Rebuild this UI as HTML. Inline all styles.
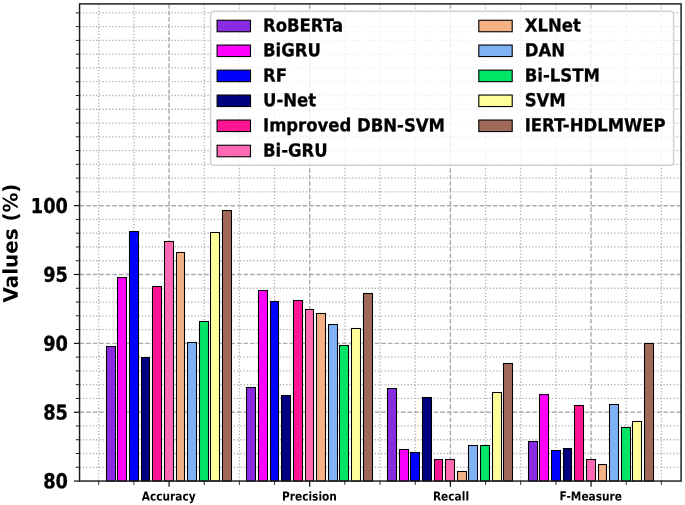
<!DOCTYPE html>
<html><head><meta charset="utf-8"><title>Chart</title>
<style>html,body{margin:0;padding:0;background:#fff}svg{display:block}</style>
</head><body>
<svg width="685" height="505" viewBox="0 0 685 505" font-family="'DejaVu Sans', 'Liberation Sans', sans-serif" font-weight="bold">
<rect width="685" height="505" fill="#fff"/>
<g stroke="#b0b0b0" stroke-width="1.3" stroke-dasharray="1.3 1.98" fill="none">
<path d="M98.72 481.05V3.9"/>
<path d="M133.88 481.05V3.9"/>
<path d="M204.22 481.05V3.9"/>
<path d="M239.38 481.05V3.9"/>
<path d="M274.55 481.05V3.9"/>
<path d="M344.89 481.05V3.9"/>
<path d="M380.06 481.05V3.9"/>
<path d="M415.22 481.05V3.9"/>
<path d="M485.56 481.05V3.9"/>
<path d="M520.72 481.05V3.9"/>
<path d="M555.89 481.05V3.9"/>
<path d="M626.23 481.05V3.9"/>
<path d="M661.39 481.05V3.9"/>
<path d="M79.55 467.28H681.1"/>
<path d="M79.55 453.51H681.1"/>
<path d="M79.55 439.74H681.1"/>
<path d="M79.55 425.97H681.1"/>
<path d="M79.55 398.43H681.1"/>
<path d="M79.55 384.66H681.1"/>
<path d="M79.55 370.89H681.1"/>
<path d="M79.55 357.12H681.1"/>
<path d="M79.55 329.58H681.1"/>
<path d="M79.55 315.81H681.1"/>
<path d="M79.55 302.04H681.1"/>
<path d="M79.55 288.27H681.1"/>
<path d="M79.55 260.73H681.1"/>
<path d="M79.55 246.96H681.1"/>
<path d="M79.55 233.19H681.1"/>
<path d="M79.55 219.42H681.1"/>
<path d="M79.55 191.88H681.1"/>
<path d="M79.55 178.11H681.1"/>
<path d="M79.55 164.34H681.1"/>
<path d="M79.55 150.57H681.1"/>
<path d="M79.55 136.80H681.1"/>
<path d="M79.55 123.03H681.1"/>
<path d="M79.55 109.26H681.1"/>
<path d="M79.55 95.49H681.1"/>
<path d="M79.55 81.72H681.1"/>
<path d="M79.55 67.95H681.1"/>
<path d="M79.55 54.18H681.1"/>
<path d="M79.55 40.41H681.1"/>
<path d="M79.55 26.64H681.1"/>
<path d="M79.55 12.87H681.1"/>
</g>
<g stroke="#adadad" stroke-width="1.45" stroke-dasharray="4.6 1.96" fill="none">
<path d="M169.05 481.05V3.9"/>
<path d="M309.72 481.05V3.9"/>
<path d="M450.39 481.05V3.9"/>
<path d="M591.06 481.05V3.9"/>
<path d="M79.55 412.20H681.1"/>
<path d="M79.55 343.35H681.1"/>
<path d="M79.55 274.50H681.1"/>
<path d="M79.55 205.65H681.1"/>
</g>
<g stroke="#000" stroke-width="1.05">
<rect x="106.5" y="346.5" width="9.0" height="134.55" fill="#8a2be2"/>
<rect x="117.5" y="277.5" width="9.0" height="203.55" fill="#ff00ff"/>
<rect x="129.5" y="231.5" width="9.0" height="249.55" fill="#0000ff"/>
<rect x="141.5" y="357.5" width="8.0" height="123.55" fill="#000080"/>
<rect x="152.5" y="286.5" width="9.0" height="194.55" fill="#ff1493"/>
<rect x="164.5" y="241.5" width="9.0" height="239.55" fill="#ff69b4"/>
<rect x="176.5" y="252.5" width="8.0" height="228.55" fill="#f4b183"/>
<rect x="187.5" y="342.5" width="9.0" height="138.55" fill="#7fb2f5"/>
<rect x="199.5" y="321.5" width="9.0" height="159.55" fill="#00e566"/>
<rect x="210.5" y="232.5" width="9.0" height="248.55" fill="#ffff99"/>
<rect x="222.5" y="210.5" width="9.0" height="270.55" fill="#a0695a"/>
<rect x="246.5" y="387.5" width="9.0" height="93.55" fill="#8a2be2"/>
<rect x="258.5" y="290.5" width="9.0" height="190.55" fill="#ff00ff"/>
<rect x="270.5" y="301.5" width="8.0" height="179.55" fill="#0000ff"/>
<rect x="281.5" y="395.5" width="9.0" height="85.55" fill="#000080"/>
<rect x="293.5" y="300.5" width="9.0" height="180.55" fill="#ff1493"/>
<rect x="305.5" y="309.5" width="8.0" height="171.55" fill="#ff69b4"/>
<rect x="316.5" y="313.5" width="9.0" height="167.55" fill="#f4b183"/>
<rect x="328.5" y="324.5" width="9.0" height="156.55" fill="#7fb2f5"/>
<rect x="339.5" y="345.5" width="9.0" height="135.55" fill="#00e566"/>
<rect x="351.5" y="328.5" width="9.0" height="152.55" fill="#ffff99"/>
<rect x="363.5" y="293.5" width="9.0" height="187.55" fill="#a0695a"/>
<rect x="387.5" y="388.5" width="9.0" height="92.55" fill="#8a2be2"/>
<rect x="399.5" y="449.5" width="9.0" height="31.55" fill="#ff00ff"/>
<rect x="410.5" y="452.5" width="9.0" height="28.55" fill="#0000ff"/>
<rect x="422.5" y="397.5" width="9.0" height="83.55" fill="#000080"/>
<rect x="434.5" y="459.5" width="8.0" height="21.55" fill="#ff1493"/>
<rect x="445.5" y="459.5" width="9.0" height="21.55" fill="#ff69b4"/>
<rect x="457.5" y="471.5" width="9.0" height="9.55" fill="#f4b183"/>
<rect x="468.5" y="445.5" width="9.0" height="35.55" fill="#7fb2f5"/>
<rect x="480.5" y="445.5" width="9.0" height="35.55" fill="#00e566"/>
<rect x="492.5" y="392.5" width="9.0" height="88.55" fill="#ffff99"/>
<rect x="503.5" y="363.5" width="9.0" height="117.55" fill="#a0695a"/>
<rect x="528.5" y="441.5" width="9.0" height="39.55" fill="#8a2be2"/>
<rect x="539.5" y="394.5" width="9.0" height="86.55" fill="#ff00ff"/>
<rect x="551.5" y="450.5" width="9.0" height="30.55" fill="#0000ff"/>
<rect x="563.5" y="448.5" width="8.0" height="32.55" fill="#000080"/>
<rect x="574.5" y="405.5" width="9.0" height="75.55" fill="#ff1493"/>
<rect x="586.5" y="459.5" width="9.0" height="21.55" fill="#ff69b4"/>
<rect x="598.5" y="464.5" width="8.0" height="16.55" fill="#f4b183"/>
<rect x="609.5" y="404.5" width="9.0" height="76.55" fill="#7fb2f5"/>
<rect x="621.5" y="427.5" width="9.0" height="53.55" fill="#00e566"/>
<rect x="632.5" y="421.5" width="9.0" height="59.55" fill="#ffff99"/>
<rect x="644.5" y="343.5" width="9.0" height="137.55" fill="#a0695a"/>
</g>
<g stroke="#000" stroke-width="1.15" fill="none">
<path d="M169.05 481.05v5.6"/>
<path d="M309.72 481.05v5.6"/>
<path d="M450.39 481.05v5.6"/>
<path d="M591.06 481.05v5.6"/>
<path d="M79.55 481.05h-5.6"/>
<path d="M79.55 412.20h-5.6"/>
<path d="M79.55 343.35h-5.6"/>
<path d="M79.55 274.50h-5.6"/>
<path d="M79.55 205.65h-5.6"/>
</g>
<g stroke="#000" stroke-width="0.85" fill="none">
<path d="M98.72 481.05v3.8"/>
<path d="M133.88 481.05v3.8"/>
<path d="M204.22 481.05v3.8"/>
<path d="M239.38 481.05v3.8"/>
<path d="M274.55 481.05v3.8"/>
<path d="M344.89 481.05v3.8"/>
<path d="M380.06 481.05v3.8"/>
<path d="M415.22 481.05v3.8"/>
<path d="M485.56 481.05v3.8"/>
<path d="M520.72 481.05v3.8"/>
<path d="M555.89 481.05v3.8"/>
<path d="M626.23 481.05v3.8"/>
<path d="M661.39 481.05v3.8"/>
<path d="M79.55 467.28h-3.8"/>
<path d="M79.55 453.51h-3.8"/>
<path d="M79.55 439.74h-3.8"/>
<path d="M79.55 425.97h-3.8"/>
<path d="M79.55 398.43h-3.8"/>
<path d="M79.55 384.66h-3.8"/>
<path d="M79.55 370.89h-3.8"/>
<path d="M79.55 357.12h-3.8"/>
<path d="M79.55 329.58h-3.8"/>
<path d="M79.55 315.81h-3.8"/>
<path d="M79.55 302.04h-3.8"/>
<path d="M79.55 288.27h-3.8"/>
<path d="M79.55 260.73h-3.8"/>
<path d="M79.55 246.96h-3.8"/>
<path d="M79.55 233.19h-3.8"/>
<path d="M79.55 219.42h-3.8"/>
<path d="M79.55 191.88h-3.8"/>
<path d="M79.55 178.11h-3.8"/>
<path d="M79.55 164.34h-3.8"/>
<path d="M79.55 150.57h-3.8"/>
<path d="M79.55 136.80h-3.8"/>
<path d="M79.55 123.03h-3.8"/>
<path d="M79.55 109.26h-3.8"/>
<path d="M79.55 95.49h-3.8"/>
<path d="M79.55 81.72h-3.8"/>
<path d="M79.55 67.95h-3.8"/>
<path d="M79.55 54.18h-3.8"/>
<path d="M79.55 40.41h-3.8"/>
<path d="M79.55 26.64h-3.8"/>
<path d="M79.55 12.87h-3.8"/>
</g>
<rect x="79.55" y="3.9" width="601.5500000000001" height="477.15000000000003" fill="none" stroke="#1c1c1c" stroke-width="1.45"/>
<g font-size="18.06" text-anchor="end" stroke="#000" stroke-width="0.3">
<text transform="translate(68.0 488.35) rotate(0.05) scale(0.985 1.135)">80</text>
<text transform="translate(68.0 419.50) rotate(0.05) scale(0.985 1.135)">85</text>
<text transform="translate(68.0 350.65) rotate(0.05) scale(0.985 1.135)">90</text>
<text transform="translate(68.0 281.80) rotate(0.05) scale(0.985 1.135)">95</text>
<text transform="translate(68.0 212.95) rotate(0.05) scale(0.985 1.135)">100</text>
</g>
<g font-size="11.11" text-anchor="middle">
<text transform="translate(168.75 500.4) rotate(0.05) scale(0.955 1.1)">Accuracy</text>
<text transform="translate(309.42 500.4) rotate(0.05) scale(0.955 1.1)">Precision</text>
<text transform="translate(450.99 500.4) rotate(0.05) scale(0.955 1.1)">Recall</text>
<text transform="translate(590.76 500.4) rotate(0.05) scale(0.955 1.1)">F-Measure</text>
</g>
<text font-size="19.44" text-anchor="middle" transform="translate(17.6 243.0) rotate(-90.04) scale(1.022 1.03)">Values (%)</text>
<rect x="210.6" y="11.3" width="463.0" height="154.0" rx="3.3" fill="#fff" fill-opacity="0.8" stroke="#d2d2d2" stroke-width="1.5"/>
<g font-size="16.67" stroke="#000" stroke-width="0.25">
<rect x="217.10000000000002" y="20.25" width="33.4" height="11.5" fill="#8a2be2" stroke="#000" stroke-width="1.1"/>
<text transform="translate(263.00 31.50) rotate(0.04) scale(0.99 1.08)">RoBERTa</text>
<rect x="217.10000000000002" y="45.05" width="33.4" height="11.5" fill="#ff00ff" stroke="#000" stroke-width="1.1"/>
<text transform="translate(263.00 56.30) rotate(0.04) scale(0.99 1.08)">BiGRU</text>
<rect x="217.10000000000002" y="70.15" width="33.4" height="11.5" fill="#0000ff" stroke="#000" stroke-width="1.1"/>
<text transform="translate(263.00 81.40) rotate(0.04) scale(0.99 1.08)">RF</text>
<rect x="217.10000000000002" y="95.05" width="33.4" height="11.5" fill="#000080" stroke="#000" stroke-width="1.1"/>
<text transform="translate(263.00 106.30) rotate(0.04) scale(0.99 1.08)">U-Net</text>
<rect x="217.10000000000002" y="120.05" width="33.4" height="11.5" fill="#ff1493" stroke="#000" stroke-width="1.1"/>
<text transform="translate(263.00 131.30) rotate(0.04) scale(0.99 1.08)">Improved DBN-SVM</text>
<rect x="217.10000000000002" y="145.25" width="33.4" height="11.5" fill="#ff69b4" stroke="#000" stroke-width="1.1"/>
<text transform="translate(263.00 156.50) rotate(0.04) scale(0.99 1.08)">Bi-GRU</text>
<rect x="478.8" y="20.25" width="33.4" height="11.5" fill="#f4b183" stroke="#000" stroke-width="1.1"/>
<text transform="translate(524.70 31.50) rotate(0.04) scale(0.99 1.08)">XLNet</text>
<rect x="478.8" y="45.05" width="33.4" height="11.5" fill="#7fb2f5" stroke="#000" stroke-width="1.1"/>
<text transform="translate(524.70 56.30) rotate(0.04) scale(0.99 1.08)">DAN</text>
<rect x="478.8" y="70.15" width="33.4" height="11.5" fill="#00e566" stroke="#000" stroke-width="1.1"/>
<text transform="translate(524.70 81.40) rotate(0.04) scale(0.99 1.08)">Bi-LSTM</text>
<rect x="478.8" y="95.05" width="33.4" height="11.5" fill="#ffff99" stroke="#000" stroke-width="1.1"/>
<text transform="translate(524.70 106.30) rotate(0.04) scale(0.99 1.08)">SVM</text>
<rect x="478.8" y="120.05" width="33.4" height="11.5" fill="#a0695a" stroke="#000" stroke-width="1.1"/>
<text transform="translate(524.70 131.30) rotate(0.04) scale(0.99 1.08)">IERT-HDLMWEP</text>
</g>
</svg>
</body></html>
